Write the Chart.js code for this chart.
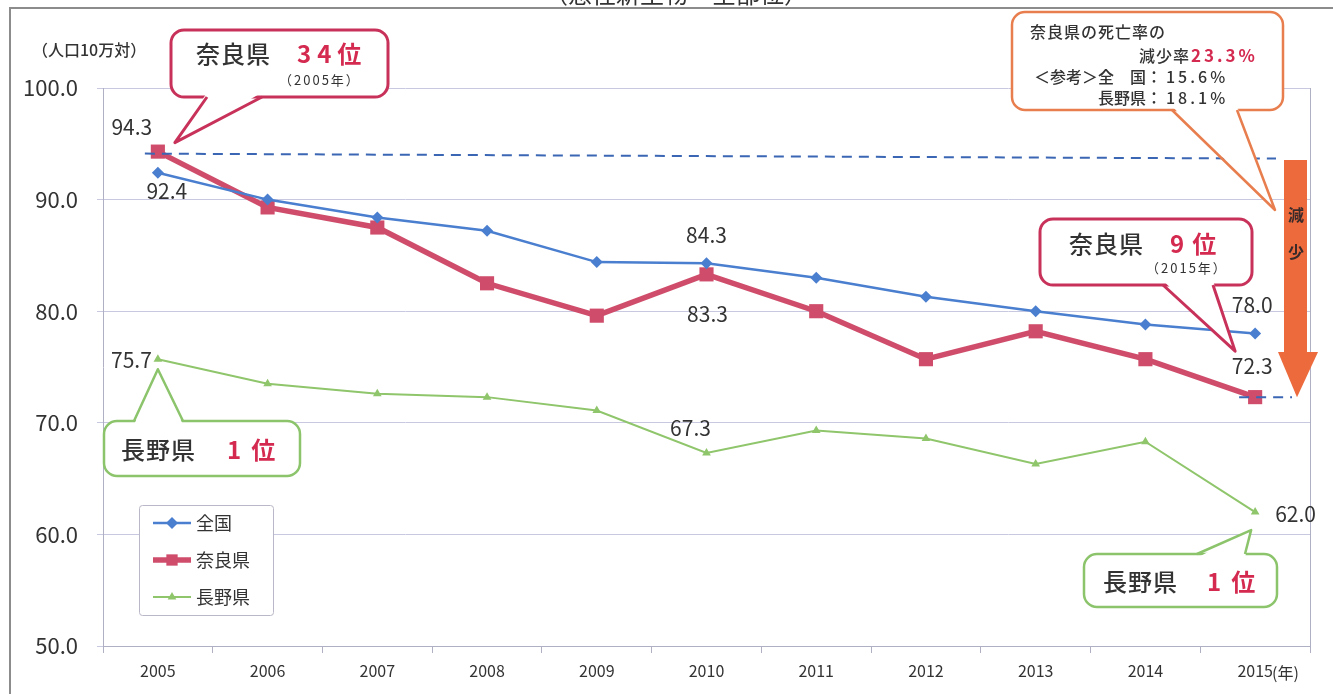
<!DOCTYPE html>
<html lang="ja">
<head>
<meta charset="utf-8">
<title>死亡率の推移（悪性新生物　全部位）</title>
<script src="https://cdn.jsdelivr.net/npm/chart.js@4.4.1/dist/chart.umd.min.js"></script>
<style>
  html, body { margin: 0; padding: 0; background: #fff; }
  canvas { display: block; }
</style>
</head>
<body>
<canvas id="rateChart" width="1333" height="694"></canvas>
<script>
// data (人口10万対)
const years = ['2005', '2006', '2007', '2008', '2009', '2010', '2011', '2012', '2013', '2014', '2015'];
const zenkoku = [92.4, 90.0, 88.4, 87.2, 84.4, 84.3, 83.0, 81.3, 80.0, 78.8, 78.0];
const nara = [94.3, 89.3, 87.5, 82.5, 79.6, 83.3, 80.0, 75.7, 78.2, 75.7, 72.3];
const nagano = [75.7, 73.5, 72.6, 72.3, 71.1, 67.3, 69.3, 68.6, 66.3, 68.3, 62.0];
const yTicks = [50, 60, 70, 80, 90, 100];

const JP = '"Noto Sans CJK JP", "Noto Sans", sans-serif';
const TEXT = '#333';
const RED = '#d42a50';

// which points get a value label: [dataset, index, dx, dy, align]
const valueLabels = [
    [1, 0, -26, -25, 'center'],
    [0, 0, 9, 18, 'center'],
    [0, 5, 0, -28, 'center'],
    [1, 5, 1, 40, 'center'],
    [0, 10, -3, -29, 'center'],
    [1, 10, -3, -31, 'center'],
    [2, 0, -6, 1, 'right'],
    [2, 5, -16, -25, 'center'],
    [2, 10, 20, 2, 'left']
];

function rr(ctx, x, y, w, h, r) {
    ctx.beginPath();
    ctx.moveTo(x + r, y);
    ctx.lineTo(x + w - r, y);
    ctx.arcTo(x + w, y, x + w, y + r, r);
    ctx.lineTo(x + w, y + h - r);
    ctx.arcTo(x + w, y + h, x + w - r, y + h, r);
    ctx.lineTo(x + r, y + h);
    ctx.arcTo(x, y + h, x, y + h - r, r);
    ctx.lineTo(x, y + r);
    ctx.arcTo(x, y, x + r, y, r);
    ctx.closePath();
}

// rounded box with a pointer; base = {y, x1, x2, dir} dir -1 for bottom edge, +1 for top edge
function callout(ctx, box, base, tip, color, lw) {
    ctx.save();
    ctx.lineWidth = lw;
    ctx.strokeStyle = color;
    ctx.fillStyle = '#fff';
    ctx.lineJoin = 'round';
    rr(ctx, box[0], box[1], box[2], box[3], 13);
    ctx.fill();
    ctx.stroke();
    ctx.beginPath();
    ctx.moveTo(base.x1, base.y + base.dir * lw * 1.5);
    ctx.lineTo(tip.x, tip.y);
    ctx.lineTo(base.x2, base.y + base.dir * lw * 1.5);
    ctx.closePath();
    ctx.fill();
    ctx.beginPath();
    ctx.moveTo(base.x1, base.y);
    ctx.lineTo(tip.x, tip.y);
    ctx.lineTo(base.x2, base.y);
    ctx.stroke();
    ctx.restore();
}

function txt(ctx, s, x, y, font, color, align, spacing) {
    ctx.save();
    ctx.font = font;
    ctx.fillStyle = color;
    ctx.textAlign = align || 'left';
    ctx.textBaseline = 'middle';
    ctx.letterSpacing = spacing || '0px';
    ctx.fillText(s, x, y);
    ctx.restore();
}

const decor = {
    id: 'decor',
    beforeDraw(chart) {
        const ctx = chart.ctx;
        ctx.save();
        ctx.fillStyle = '#fff';
        ctx.fillRect(0, 0, chart.width, chart.height);
        // outer frame (only top and left visible)
        ctx.strokeStyle = '#8c8c8c';
        ctx.lineWidth = 2;
        ctx.beginPath();
        ctx.moveTo(1333, 8);
        ctx.lineTo(10, 8);
        ctx.lineTo(10, 694);
        ctx.stroke();
        // cut off title
        ctx.font = '24px ' + JP;
        ctx.fillStyle = TEXT;
        ctx.textAlign = 'center';
        ctx.textBaseline = 'alphabetic';
        ctx.fillText('（悪性新生物　全部位）', 676, 3);
        ctx.restore();
        txt(ctx, '（人口10万対）', 32, 50, '500 16px ' + JP, TEXT, 'left');
    },
    afterDatasetsDraw(chart) {
        const ctx = chart.ctx;
        const a = chart.chartArea;
        const pt = (d, i) => chart.getDatasetMeta(d).data[i];

        // right border of plot
        ctx.save();
        ctx.strokeStyle = '#b0b0c4';
        ctx.lineWidth = 1;
        ctx.beginPath();
        ctx.moveTo(a.right + 0.5, a.top);
        ctx.lineTo(a.right + 0.5, a.bottom);
        ctx.stroke();

        // dashed reference lines
        const p0 = pt(1, 0), p10 = pt(1, 10);
        ctx.strokeStyle = '#3a66b4';
        ctx.lineWidth = 2;
        ctx.setLineDash([10, 7]);
        ctx.beginPath();
        ctx.moveTo(p0.x - 13, p0.y + 2);
        ctx.lineTo(1276, p0.y + 7);
        ctx.moveTo(p10.x - 16, p10.y);
        ctx.lineTo(1292, p10.y);
        ctx.stroke();
        ctx.restore();

        // value labels
        valueLabels.forEach(([d, i, dx, dy, al]) => {
            const p = pt(d, i);
            const v = chart.data.datasets[d].data[i];
            txt(ctx, v.toFixed(1), p.x + dx, p.y + dy, '21px ' + JP, TEXT, al);
        });

        // legend
        ctx.save();
        ctx.strokeStyle = '#b8b8c8';
        ctx.lineWidth = 1;
        ctx.fillStyle = '#fff';
        rr(ctx, 139.5, 505.5, 134, 110, 3);
        ctx.fill();
        ctx.stroke();
        chart.data.datasets.forEach((ds, k) => {
            const y = 523 + k * 37;
            ctx.strokeStyle = ds.borderColor;
            ctx.lineWidth = ds.borderWidth;
            ctx.beginPath();
            ctx.moveTo(153, y);
            ctx.lineTo(191, y);
            ctx.stroke();
            ctx.fillStyle = ds.pointBackgroundColor;
            ctx.strokeStyle = ds.pointBackgroundColor;
            Chart.helpers.drawPoint(ctx, {
                pointStyle: ds.pointStyle,
                radius: ds.pointRadius * (k === 1 ? 0.8 : 1),
                rotation: 0,
                borderWidth: 0
            }, 172, y);
            txt(ctx, ds.label, 196, y, '18px ' + JP, TEXT, 'left');
        });
        ctx.restore();

        // callouts
        const n0 = pt(1, 0), n10 = pt(1, 10), g0 = pt(2, 0), g10 = pt(2, 10);
        callout(ctx, [171, 30, 217, 67], {y: 97, x1: 207, x2: 262, dir: -1},
            {x: n0.x + 17, y: n0.y - 9}, '#c8325a', 3);
        txt(ctx, '奈良県', 196, 54, '500 24px ' + JP, TEXT, 'left', '1px');
        txt(ctx, '34位', 297, 54, 'bold 24px ' + JP, RED, 'left', '6px');
        txt(ctx, '（2005年）', 279, 80, '13px ' + JP, TEXT, 'left', '2px');

        callout(ctx, [1040, 219, 212, 66], {y: 285, x1: 1163, x2: 1213, dir: -1},
            {x: n10.x - 20, y: n10.y - 46}, '#c8325a', 3);
        txt(ctx, '奈良県', 1069, 244, '500 24px ' + JP, TEXT, 'left', '1px');
        txt(ctx, '9位', 1170, 244, 'bold 24px ' + JP, RED, 'left', '8px');
        txt(ctx, '（2015年）', 1146, 268, '13px ' + JP, TEXT, 'left', '2px');

        callout(ctx, [104, 421, 196, 55], {y: 421, x1: 134, x2: 183, dir: 1},
            {x: g0.x, y: g0.y + 10}, '#8cc46c', 2.5);
        txt(ctx, '長野県', 121, 450, '500 24px ' + JP, TEXT, 'left', '1px');
        txt(ctx, '1位', 227, 450, 'bold 24px ' + JP, RED, 'left', '10px');

        callout(ctx, [1084, 554, 193, 53], {y: 554, x1: 1197, x2: 1245, dir: 1},
            {x: g10.x - 4, y: g10.y + 18}, '#8cc46c', 2.5);
        txt(ctx, '長野県', 1103, 582, '500 24px ' + JP, TEXT, 'left', '1px');
        txt(ctx, '1位', 1207, 582, 'bold 24px ' + JP, RED, 'left', '10px');

        // 減少 arrow
        ctx.save();
        ctx.fillStyle = '#ec6a3c';
        ctx.fillRect(1284, 160, 23, 194);
        ctx.beginPath();
        ctx.moveTo(1278, 352);
        ctx.lineTo(1318, 352);
        ctx.lineTo(1297, p10.y);
        ctx.closePath();
        ctx.fill();
        ctx.restore();
        txt(ctx, '減', 1296, 215, 'bold 16px ' + JP, '#3a2a2a', 'center');
        txt(ctx, '少', 1296, 252, 'bold 16px ' + JP, '#3a2a2a', 'center');

        // orange note box
        callout(ctx, [1012, 12, 271, 98], {y: 110, x1: 1172, x2: 1237, dir: -1},
            {x: 1275, y: 210}, '#e87e4e', 2.5);
        const f = '500 16px ' + JP;
        txt(ctx, '奈良県の死亡率の', 1030, 32, f, TEXT, 'left', '1px');
        txt(ctx, '減少率', 1190, 56, f, TEXT, 'right', '1px');
        txt(ctx, '23.3%', 1191, 56, 'bold 17px ' + JP, RED, 'left', '3px');
        txt(ctx, '＜参考＞全　国：', 1162, 77, f, TEXT, 'right');
        txt(ctx, '15.6%', 1166, 77, f, TEXT, 'left', '3px');
        txt(ctx, '長野県：', 1162, 98, f, TEXT, 'right');
        txt(ctx, '18.1%', 1166, 98, f, TEXT, 'left', '3px');

        // (年) after last x label
        txt(ctx, '(年)', 1272, 673, '16px ' + JP, TEXT, 'left');
    }
};

new Chart(document.getElementById('rateChart'), {
    type: 'line',
    data: {
        labels: years,
        datasets: [{
            label: '全国',
            data: zenkoku,
            borderColor: '#4a7ecf',
            borderWidth: 2.5,
            pointStyle: 'rectRot',
            pointRadius: 6,
            pointBackgroundColor: '#4a7ecf',
            pointBorderWidth: 0
        }, {
            label: '奈良県',
            data: nara,
            borderColor: '#cf4d6b',
            borderWidth: 5.5,
            pointStyle: 'rect',
            pointRadius: 10,
            pointBackgroundColor: '#cf4d6b',
            pointBorderWidth: 0
        }, {
            label: '長野県',
            data: nagano,
            borderColor: '#8fc56b',
            borderWidth: 2,
            pointStyle: 'triangle',
            pointRadius: 5,
            pointBackgroundColor: '#8fc56b',
            pointBorderWidth: 0
        }]
    },
    options: {
        responsive: false,
        animation: false,
        devicePixelRatio: 1,
        layout: { padding: { top: 88, right: 23, left: 0, bottom: 0 } },
        scales: {
            x: {
                offset: true,
                grid: { offset: true, drawOnChartArea: false, tickLength: 7, color: '#b0b0c4' },
                border: { color: '#b0b0c4' },
                ticks: { font: { family: JP, size: 16 }, color: TEXT, padding: 8, maxRotation: 0, autoSkip: false },
                afterFit(s) { s.height = 48; }
            },
            y: {
                min: 50,
                max: 100,
                afterBuildTicks(s) { s.ticks = yTicks.map(v => ({ value: v })); },
                grid: { color: '#c8c8e0', tickLength: 6 },
                border: { color: '#b0b0c4' },
                ticks: {
                    font: { family: JP, size: 22 },
                    color: TEXT,
                    padding: 19,
                    callback: v => v.toFixed(1)
                },
                afterFit(s) { s.width = 103; }
            }
        },
        plugins: {
            legend: { display: false },
            tooltip: { enabled: false }
        }
    },
    plugins: [decor]
});
</script>
</body>
</html>
